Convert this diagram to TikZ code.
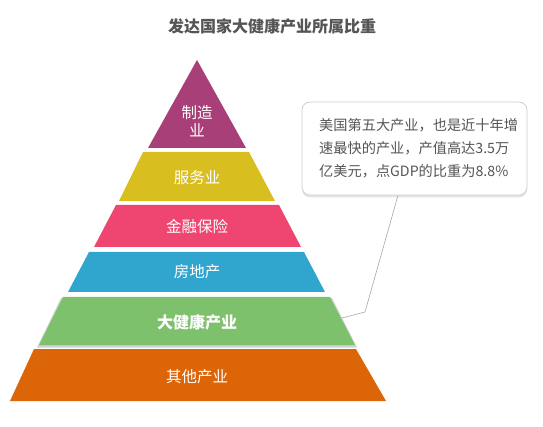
\documentclass[tikz,border=0pt]{standalone}
\usepackage{fontspec}
\setmainfont{Noto Sans CJK SC}
\definecolor{cpurple}{HTML}{A93F78}
\definecolor{cyellow}{HTML}{D8BE1E}
\definecolor{cpink}{HTML}{EE4670}
\definecolor{cblue}{HTML}{30A5CD}
\definecolor{cgreen}{HTML}{7EC16C}
\definecolor{corange}{HTML}{DC6508}
\definecolor{ctext}{HTML}{555555}
\definecolor{cborder}{HTML}{D0D0D0}
\tikzset{
  lbl/.style={text=white, font=\fontsize{15.5}{18}\selectfont, inner sep=0pt, align=center},
  lblbold/.style={lbl, font=\fontsize{16}{19}\selectfont\bfseries},
  callout/.style={draw=cborder, line width=0.8pt, fill=white, rounded corners=8pt, minimum width=225pt, minimum height=93pt, inner sep=0pt},
  ctxt/.style={text=ctext, font=\fontsize{14.2}{23}\selectfont, align=left, inner sep=0pt, anchor=north west},
  leader/.style={draw=gray!70, line width=0.6pt}
}
\begin{document}
\begin{tikzpicture}[x=1pt,y=-1pt]
\useasboundingbox (0,0) rectangle (543,427);
% title
\node[text=ctext, font=\fontsize{16}{19}\selectfont\bfseries, inner sep=0pt] (title) at (272,26) {发达国家大健康产业所属比重};
% layers
\fill[cpurple] (197,60) -- (246,148) -- (148,148) -- cycle;
\fill[cyellow] (143,152) -- (249,152) -- (275,201) -- (119,201) -- cycle;
\fill[cpink] (116,205) -- (279,205) -- (301,247) -- (94,247) -- cycle;
\fill[cblue] (89,252) -- (304,252) -- (325,292) -- (68,292) -- cycle;
\fill[black!18] (61,298) -- (332,298) -- (357,347.5) -- (37,347.5) -- cycle;
\fill[cgreen] (63,297) -- (330,297) -- (355,345) -- (39,345) -- cycle;
\fill[corange] (34,349) -- (356,349) -- (386,401) -- (10,401) -- cycle;
% labels
\node[lbl] (l1) at (197,121) {制造\\业};
\node[lbl] (l2) at (197,178) {服务业};
\node[lbl] (l3) at (197,227) {金融保险};
\node[lbl] (l4) at (197,272) {房地产};
\node[lblbold] (l5) at (197,322) {大健康产业};
\node[lbl] (l6) at (197,377) {其他产业};
% callout
\fill[black!10, rounded corners=8pt] (302,103.5) rectangle (527,197.5);
\node[callout] (box) at (414.5,148.5) {};
\node[ctxt] (btxt) at (319,118.5) {美国第五大产业，也是近十年增\\速最快的产业，产值高达3.5万\\亿美元，点GDP的比重为8.8\%};
\coordinate (k1) at (365,312);
\coordinate (k2) at (342,318);
\draw[leader] ([xshift=-16.5pt]box.south) -- (k1) -- (k2);
\end{tikzpicture}
\end{document}
